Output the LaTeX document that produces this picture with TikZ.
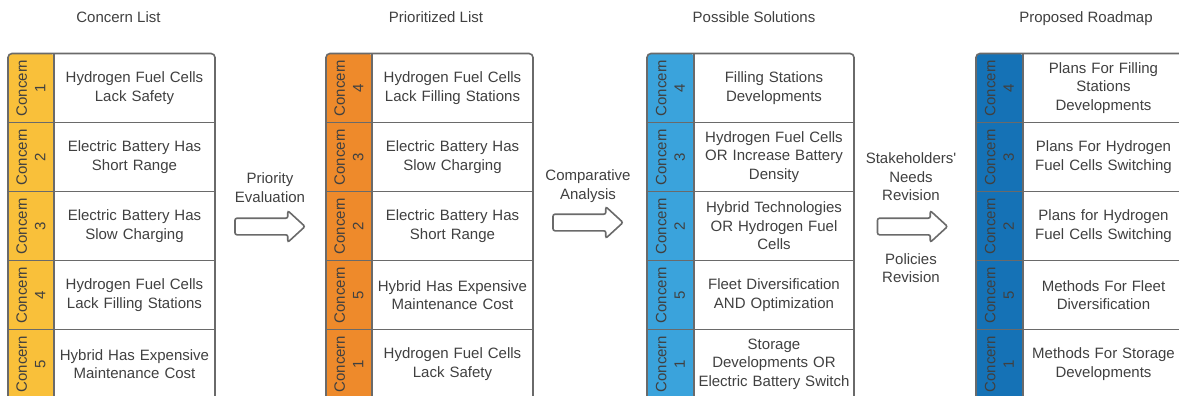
\documentclass[tikz,border=0pt]{standalone}
\usepackage{fontspec}
\setmainfont{Liberation Sans}
\usetikzlibrary{shapes.arrows}
\definecolor{txt}{HTML}{404040}
\definecolor{frame}{HTML}{6A6A6A}
\definecolor{cyellow}{HTML}{F9C03A}
\definecolor{corange}{HTML}{EE8A2B}
\definecolor{clblue}{HTML}{3AA3DC}
\definecolor{cdblue}{HTML}{1572B6}
\tikzset{
  every node/.style={text=txt, font=\fontsize{15}{18.5}\selectfont},
  celltext/.style={align=center, inner sep=0pt, text width=160pt},
  labtext/.style={align=center, inner sep=0pt, rotate=90},
  gridline/.style={draw=frame, line width=1.6pt},
  bigarrow/.style={single arrow, draw=frame, fill=white, line width=1.6pt,
    minimum height=70pt, inner xsep=0pt, inner ysep=7.5pt, single arrow head extend=7.5pt,
    single arrow tip angle=85, rounded corners=2pt},
  steplabel/.style={align=center, inner sep=0pt},
  titletext/.style={inner sep=0pt, anchor=base}
}
\newcommand{\drawtable}[6]{%
  \fill[#5, rounded corners=4pt] (#2,398.5) -- (#2,53.5) -- (#3,53.5) -- (#3,398.5) -- cycle;
  \foreach \n/\t [count=\i] in {#6} {
    \node[labtext] (#1l\i) at ({(#2+#3)/2}, {19+69*\i}) {Concern\\\n};
    \node[celltext] (#1c\i) at ({(#3+#4)/2}, {19+69*\i}) {\t};
  }
  \draw[gridline, rounded corners=4pt] (#2,398.5) -- (#2,53.5) -- (#4,53.5) -- (#4,398.5);
  \draw[gridline] (#3,53.5) -- (#3,398.5);
  \foreach \y in {122.5,191.5,260.5,329.5} { \draw[gridline] (#2,\y) -- (#4,\y); }
}
\begin{document}
\begin{tikzpicture}[x=1pt, y=-1pt]
\useasboundingbox (0,0) rectangle (1179,396);
\clip (0,0) rectangle (1179,396);
\fill[white] (0,0) rectangle (1179,396);

\node[titletext] (title1) at (118.5,22.5) {Concern List};
\node[titletext] (title2) at (436,22.5) {Prioritized List};
\node[titletext] (title3) at (754,22.5) {Possible Solutions};
\node[titletext] (title4) at (1086,22.5) {Proposed Roadmap};

\drawtable{a}{8}{54}{215}{cyellow}{1/{Hydrogen Fuel Cells\\Lack Safety},2/{Electric Battery Has\\Short Range},3/{Electric Battery Has\\Slow Charging},4/{Hydrogen Fuel Cells\\Lack Filling Stations},5/{Hybrid Has Expensive\\Maintenance Cost}}
\drawtable{b}{326}{372}{533}{corange}{4/{Hydrogen Fuel Cells\\Lack Filling Stations},3/{Electric Battery Has\\Slow Charging},2/{Electric Battery Has\\Short Range},5/{Hybrid Has Expensive\\Maintenance Cost},1/{Hydrogen Fuel Cells\\Lack Safety}}
\drawtable{c}{647}{694}{854}{clblue}{4/{Filling Stations\\Developments},3/{Hydrogen Fuel Cells\\OR Increase Battery\\Density},2/{Hybrid Technologies\\OR Hydrogen Fuel\\Cells},5/{Fleet Diversification\\AND Optimization},1/{Storage\\Developments OR\\Electric Battery Switch}}
\drawtable{d}{976}{1023}{1184}{cdblue}{4/{Plans For Filling\\Stations\\Developments},3/{Plans For Hydrogen\\Fuel Cells Switching},2/{Plans for Hydrogen\\Fuel Cells Switching},5/{Methods For Fleet\\Diversification},1/{Methods For Storage\\Developments}}

\node[bigarrow] (arr1) at (265.5,226.5) {};
\node[bigarrow] (arr2) at (583.5,222.5) {};
\node[bigarrow] (arr3) at (908,226.5) {};
\node[steplabel] (lab1) at (270,187.5) {Priority\\Evaluation};
\node[steplabel] (lab2) at (588,186) {Comparative\\Analysis};
\node[steplabel] (lab3) at (911,177) {Stakeholders\textquotesingle\\Needs\\Revision};
\node[steplabel] (lab4) at (911,268) {Policies\\Revision};
\end{tikzpicture}
\end{document}
